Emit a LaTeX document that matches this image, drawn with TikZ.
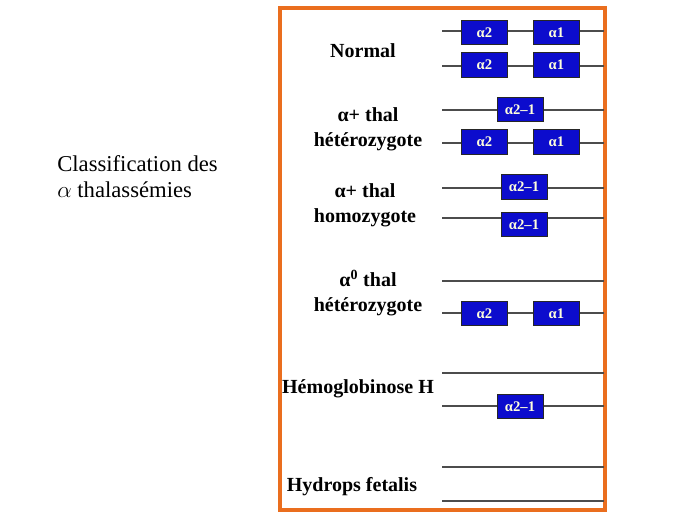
\documentclass[tikz,border=0pt]{standalone}
\usepackage{fontspec}
\setmainfont{Liberation Serif}
\definecolor{frameorange}{RGB}{234,110,30}
\definecolor{geneblue}{RGB}{12,12,205}
\definecolor{genetext}{RGB}{255,255,220}
\begin{document}
\begin{tikzpicture}[x=0.75pt,y=-0.75pt,
  gene/.style={draw=black!85, fill=geneblue, text=genetext, font=\bfseries\fontsize{11}{12}\selectfont, minimum width=34.5pt, minimum height=18.5pt, inner sep=0pt, line width=0.6pt},
  chrom/.style={line width=1.3pt, black!70},
  lbl/.style={font=\bfseries\fontsize{15}{18.5}\selectfont, align=center}]
  \useasboundingbox (0,0) rectangle (689,517);
  \draw[frameorange, line width=3pt] (280,8) rectangle (605,510);
  \node[font=\fontsize{17}{19.5}\selectfont, align=left, anchor=north west, inner sep=0pt] (title) at (57,155) {Classification des\\$\alpha$ thalassémies};
  % chromosome lines
  \foreach \y/\n in {31/a,66/b,110/c,143/d,188/e,218/f,281/g,313/h,373/i,406/j,467/k,501/l} {
    \coordinate (\n s) at (442,\y);
    \coordinate (\n e) at (604,\y);
    \draw[chrom] (\n s) -- (\n e);
  }
  % genes
  \node[gene] (na2) at (484.5,32.5) {α2};
  \node[gene] (na1) at (556.5,32.5) {α1};
  \node[gene] (nb2) at (484.5,65) {α2};
  \node[gene] (nb1) at (556.5,65) {α1};
  \node[gene] (hc) at (520,109.5) {α2–1};
  \node[gene] (hd2) at (484.5,142) {α2};
  \node[gene] (hd1) at (556.5,142) {α1};
  \node[gene] (he) at (524,187) {α2–1};
  \node[gene] (hf) at (524,224.5) {α2–1};
  \node[gene] (zh2) at (484.5,313.5) {α2};
  \node[gene] (zh1) at (556.5,313.5) {α1};
  \node[gene] (hbj) at (520,406.5) {α2–1};
  % labels
  \node[lbl] (normal) at (363,51) {Normal};
  \node[lbl] (plushet) at (368,129) {α+ thal\\hétérozygote};
  \node[lbl] (plushom) at (365,205) {α+ thal\\homozygote};
  \node[lbl] (zerohet) at (368,293) {α\textsuperscript{0} thal\\hétérozygote};
  \node[lbl] (hbh) at (358,389) {Hémoglobinose H};
  \node[lbl] (hydrops) at (352,487) {Hydrops fetalis};
\end{tikzpicture}
\end{document}
